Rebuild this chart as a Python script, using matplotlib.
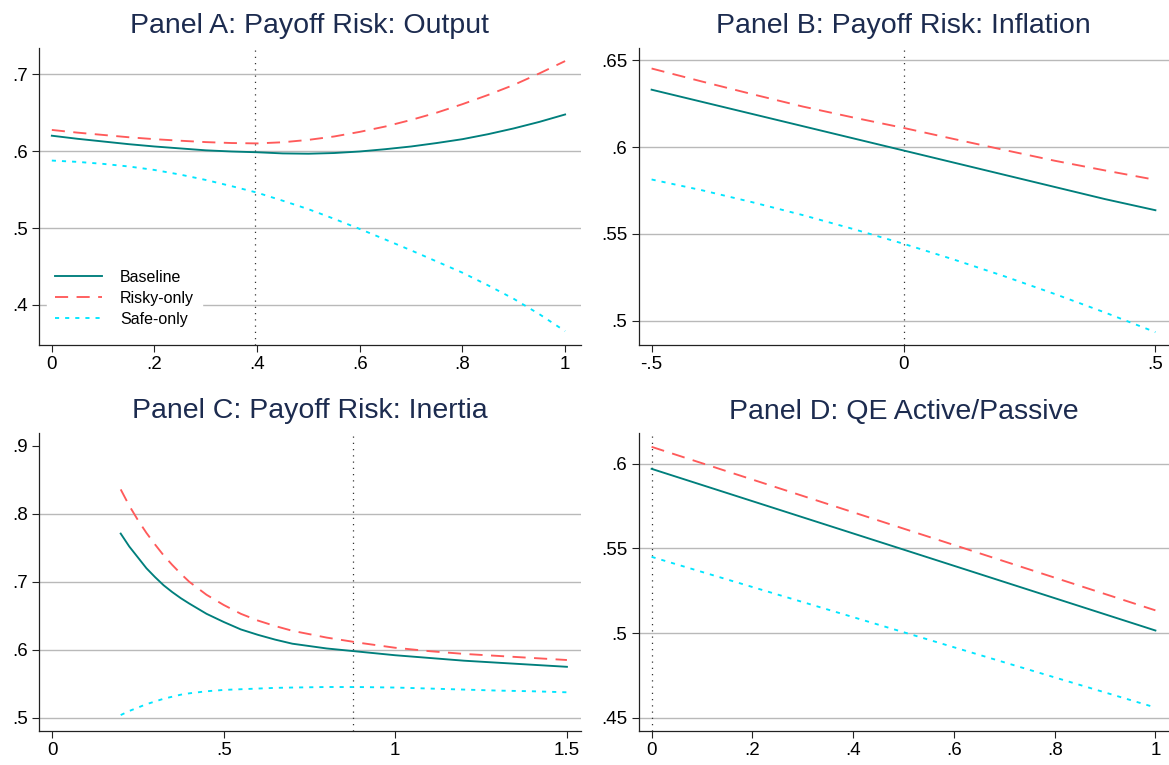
import numpy as np
import matplotlib
matplotlib.use("Agg")
import matplotlib.pyplot as plt

plt.rcParams['font.family'] = ['Liberation Sans', 'DejaVu Sans']

# Panel A: payoff risk, output
a_x = [0.0, 0.05, 0.1, 0.15, 0.2, 0.25, 0.3, 0.35, 0.4, 0.45, 0.5,
       0.55, 0.6, 0.65, 0.7, 0.75, 0.8, 0.85, 0.9, 0.95, 1.0]
a_base = [0.620, 0.616, 0.6125, 0.609, 0.606, 0.6035, 0.601, 0.5995, 0.5985, 0.597, 0.5966,
          0.5975, 0.5995, 0.6025, 0.606, 0.6105, 0.6155, 0.622, 0.6295, 0.638, 0.6476]
a_risky = [0.6275, 0.624, 0.621, 0.618, 0.6155, 0.6135, 0.6117, 0.6105, 0.610, 0.6115, 0.6146,
           0.619, 0.625, 0.632, 0.6405, 0.650, 0.661, 0.673, 0.686, 0.701, 0.717]
a_safe = [0.5877, 0.586, 0.5834, 0.580, 0.5755, 0.5695, 0.5625, 0.5545, 0.546, 0.5355, 0.5245,
          0.512, 0.4988, 0.485, 0.471, 0.4565, 0.442, 0.4255, 0.408, 0.388, 0.366]
a_ref = 0.395

# Panel B: payoff risk, inflation
b_x = [-0.5, -0.4, -0.3, -0.2, -0.1, 0.0, 0.1, 0.2, 0.3, 0.4, 0.5]
b_base = [0.633, 0.626, 0.619, 0.612, 0.605, 0.598, 0.591, 0.584, 0.577, 0.570, 0.5636]
b_risky = [0.6452, 0.6377, 0.6304, 0.6233, 0.6170, 0.6110, 0.6046, 0.5983, 0.5921, 0.5865, 0.5811]
b_safe = [0.5813, 0.5751, 0.5682, 0.5608, 0.5528, 0.5443, 0.5352, 0.5256, 0.5154, 0.5047, 0.4934]
b_ref = 0.0

# Panel C: payoff risk, inertia
c_x = [0.2, 0.225, 0.25, 0.275, 0.3, 0.325, 0.35, 0.375, 0.4, 0.45, 0.5, 0.55, 0.6, 0.65,
       0.7, 0.8, 0.9, 1.0, 1.1, 1.2, 1.3, 1.4, 1.5]
c_base = [0.771, 0.752, 0.736, 0.720, 0.707, 0.695, 0.685, 0.676, 0.668, 0.653, 0.641, 0.630,
          0.622, 0.615, 0.609, 0.602, 0.597, 0.592, 0.588, 0.584, 0.581, 0.578, 0.575]
c_risky = [0.836, 0.812, 0.791, 0.772, 0.755, 0.739, 0.725, 0.712, 0.700, 0.681, 0.666, 0.653,
           0.643, 0.635, 0.628, 0.618, 0.610, 0.603, 0.598, 0.594, 0.591, 0.588, 0.585]
c_safe = [0.504, 0.510, 0.515, 0.520, 0.524, 0.528, 0.531, 0.534, 0.536, 0.539, 0.541, 0.542,
          0.543, 0.544, 0.5445, 0.5453, 0.5452, 0.5445, 0.543, 0.5415, 0.540, 0.539, 0.5375]
c_ref = 0.878

# Panel D: QE active/passive
d_x = [0.0, 0.5, 1.0]
d_base = [0.597, 0.5493, 0.5015]
d_risky = [0.610, 0.5617, 0.5134]
d_safe = [0.545, 0.5005, 0.456]
d_ref = 0.0

titles = ["Panel A: Payoff Risk: Output", "Panel B: Payoff Risk: Inflation",
          "Panel C: Payoff Risk: Inertia", "Panel D: QE Active/Passive"]
labels = ["Baseline", "Risky-only", "Safe-only"]

a_xticks = [0, 0.2, 0.4, 0.6, 0.8, 1.0]
a_yticks = [0.4, 0.5, 0.6, 0.7]
b_xticks = [-0.5, 0, 0.5]
b_yticks = [0.5, 0.55, 0.6, 0.65]
c_xticks = [0, 0.5, 1.0, 1.5]
c_yticks = [0.5, 0.6, 0.7, 0.8, 0.9]
d_xticks = [0, 0.2, 0.4, 0.6, 0.8, 1.0]
d_yticks = [0.45, 0.5, 0.55, 0.6]

TEAL = "#007f7c"
RED = "#ff5a5a"
CYAN = "#00e6ff"
NAVY = "#1c2b4f"
GRID = "#b9b9b9"


def fmt(v):
    s = f"{v:g}"
    if s.startswith("0."):
        s = s[1:]
    elif s.startswith("-0."):
        s = "-" + s[2:]
    return s


fig = plt.figure(figsize=(11.69, 7.65), dpi=100)
W, H = 1169, 765
ax_a = fig.add_axes([39 / W, 1 - 345 / H, 542 / W, 297 / H])
ax_b = fig.add_axes([638.5 / W, 1 - 345 / H, 530 / W, 297 / H])
ax_c = fig.add_axes([39 / W, 1 - 730.7 / H, 542 / W, 297.7 / H])
ax_d = fig.add_axes([638.5 / W, 1 - 730.7 / H, 530 / W, 297.4 / H])

panels = [
    (ax_a, a_x, a_base, a_risky, a_safe, a_ref, a_xticks, a_yticks, a_yticks, (-0.025, 1.031), (0.348, 0.734)),
    (ax_b, b_x, b_base, b_risky, b_safe, b_ref, b_xticks, b_yticks, b_yticks, (-0.526, 0.526), (0.486, 0.657)),
    (ax_c, c_x, c_base, c_risky, c_safe, c_ref, c_xticks, c_yticks, c_yticks[:-1], (-0.038, 1.541), (0.481, 0.919)),
    (ax_d, d_x, d_base, d_risky, d_safe, d_ref, d_xticks, d_yticks, d_yticks, (-0.026, 1.026), (0.4423, 0.618)),
]

for i, (ax, x, yb, yr, ys, ref, xt, yt, grid_at, xl, yl) in enumerate(panels):
    for g in grid_at:
        ax.axhline(g, color=GRID, lw=1.0, zorder=0)
    ax.axvline(ref, color="#333333", lw=0.9, linestyle=(0, (1, 4)), zorder=1)
    ax.plot(x, yb, color=TEAL, lw=1.35, label=labels[0], zorder=3)
    ax.plot(x, yr, color=RED, lw=1.35, dashes=(7, 4.5), label=labels[1], zorder=3)
    ax.plot(x, ys, color=CYAN, lw=1.35, dashes=(2.2, 3.2), label=labels[2], zorder=3)

    ax.set_xlim(*xl)
    ax.set_ylim(*yl)
    ax.set_xticks(xt)
    ax.set_xticklabels([fmt(v) for v in xt])
    ax.set_yticks(yt)
    ax.set_yticklabels([fmt(v) for v in yt])
    ax.tick_params(axis="both", direction="out", length=5, width=0.8,
                   labelsize=13.5, color="#222222", pad=3)
    for side in ["top", "right"]:
        ax.spines[side].set_visible(False)
    for side in ["left", "bottom"]:
        ax.spines[side].set_color("#222222")
        ax.spines[side].set_linewidth(0.9)
    ax.set_title(titles[i], fontsize=20.5, color=NAVY, pad=10.5)

leg = ax_a.legend(loc="center left", bbox_to_anchor=(0.014, 0.158), borderaxespad=0,
                  fontsize=11.5, frameon=True, fancybox=False, edgecolor="white",
                  facecolor="white", framealpha=1, handlelength=3.0,
                  handletextpad=1.1, labelspacing=0.38, borderpad=0.5)
leg.set_zorder(5)

fig.savefig("out.png", dpi=100, facecolor="white")
